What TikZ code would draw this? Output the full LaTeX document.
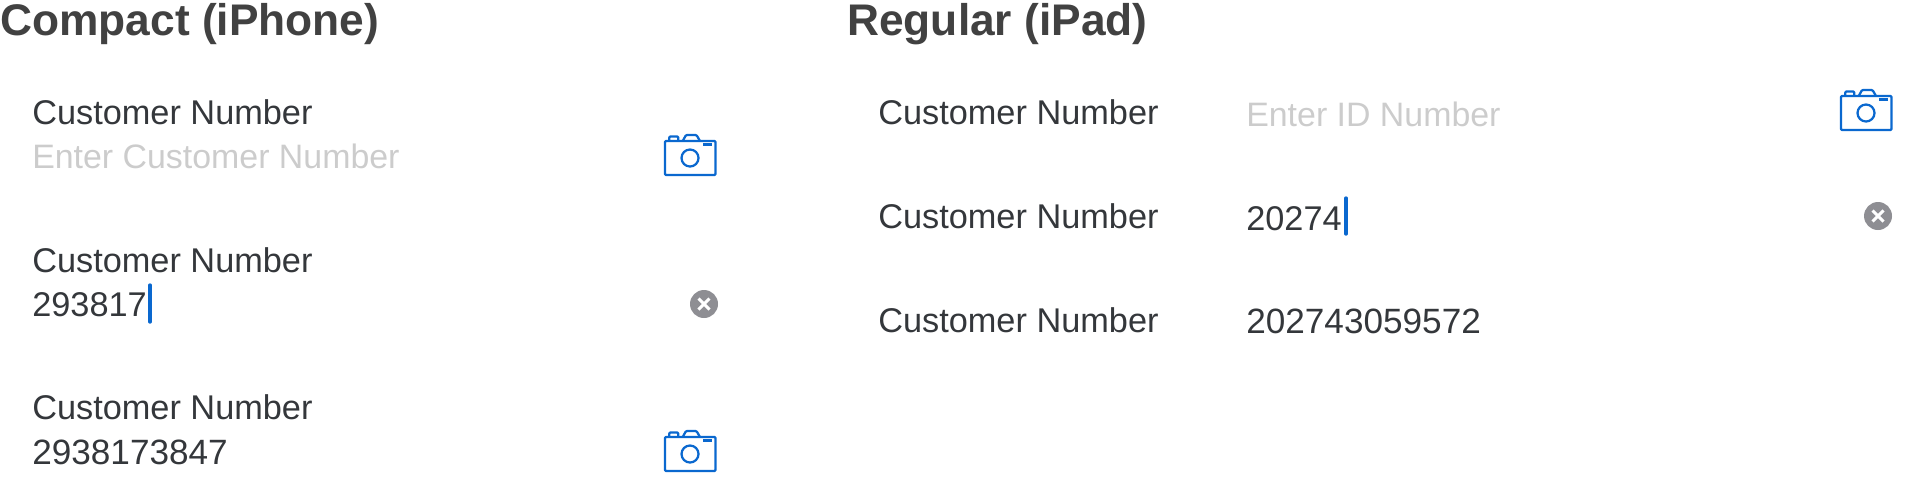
\documentclass[tikz,border=0pt]{standalone}
\usepackage{fontspec}
\setmainfont{Liberation Sans}
\usetikzlibrary{positioning}
\definecolor{inktext}{HTML}{34373B}
\definecolor{inktitle}{HTML}{414141}
\definecolor{inkhint}{HTML}{CCCCCC}
\definecolor{inkblue}{HTML}{0A68CF}
\definecolor{inkgray}{HTML}{8E8E93}
\tikzstyle{title}=[anchor=base west,inner sep=0pt,font=\fontsize{31.5}{36}\selectfont\bfseries,text=inktitle]
\tikzstyle{field}=[anchor=base west,inner sep=0pt,font=\fontsize{24.4}{28}\selectfont,text=inktext]
\tikzstyle{longvalue}=[field,font=\fontsize{25}{28}\selectfont]
\tikzstyle{hint}=[field,font=\fontsize{24.1}{28}\selectfont,text=inkhint]
\tikzstyle{caret}=[line width=2.4pt,inkblue,line cap=round]
\tikzstyle{cam}=[line width=1.6pt,inkblue,line join=round,rounded corners=0.7pt]
\newcommand{\camera}[2]{%
  \begin{scope}[shift={(#1,#2)}]
    \draw[cam] (0,7) rectangle (50.5,41);
    \draw[cam] (4.3,7) -- (4.3,2.5) -- (13.3,2.5) -- (13.3,7);
    \draw[cam] (17.7,7) -- (21,1) -- (31.5,1) -- (35,7);
    \draw[cam] (37.8,10.5) -- (47,10.5);
    \draw[cam] (25,24) circle (8.5);
  \end{scope}}
\newcommand{\clearbtn}[2]{%
  \fill[inkgray] (#1,#2) circle (14);
  \draw[white,line width=2.2pt] (#1-5.5,#2-5.5) -- (#1+5.5,#2+5.5) (#1-5.5,#2+5.5) -- (#1+5.5,#2-5.5);}

\begin{document}
\begin{tikzpicture}[x=0.025cm,y=-0.025cm]

  \useasboundingbox (0,0) rectangle (1926,496);

  \node[title] (compact) at (0,35) {Compact (iPhone)};
  \node[title] (regular) at (847,35) {Regular (iPad)};

  % labels
  \foreach \pos/\name in {{(32,124)/la}, {(32,272)/lb}, {(32,419)/lc}, {(878,124)/ld}, {(878,228)/le}, {(878,332)/lf}}
    \node[field] (\name) at \pos {Customer Number};

  % values
  \node[hint] (hinta) at (32,168) {Enter Customer Number};
  \node[field] (vala) at (32,316) {293817};
  \node[longvalue] (valb) at (32,464) {2938173847};
  \node[hint] (hintb) at (1246,126) {Enter ID Number};
  \node[field] (valc) at (1246,230) {20274};
  \node[longvalue] (vald) at (1246,333) {202743059572};

  \draw[caret] (150,285) -- (150,322);
  \draw[caret] (1346,198) -- (1346,234);

  \camera{665}{134}
  \camera{665}{430}
  \camera{1841}{89}

  \clearbtn{704}{304}
  \clearbtn{1878}{216}

\end{tikzpicture}
\end{document}
